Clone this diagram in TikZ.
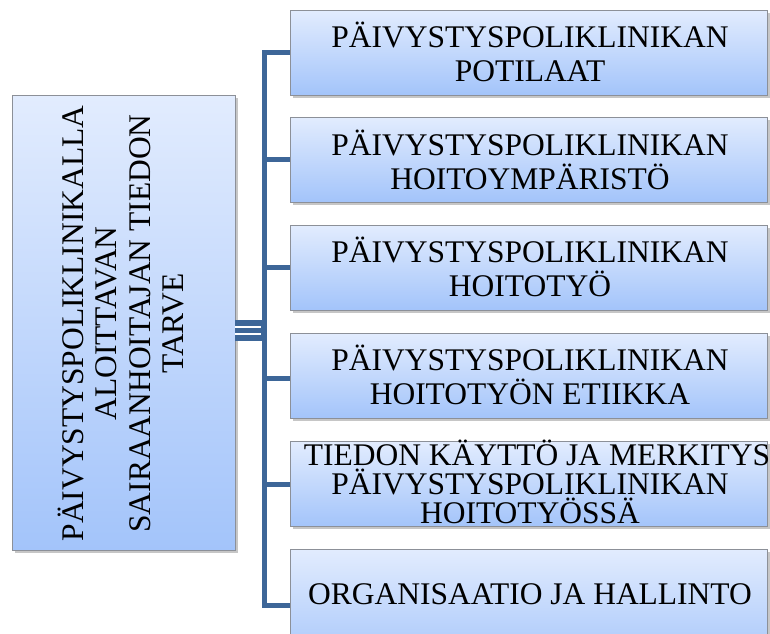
\documentclass[tikz,border=0pt]{standalone}
\usepackage{fontspec}
\setmainfont{Liberation Serif}
\usetikzlibrary{shadows}
\definecolor{busblue}{RGB}{61,102,152}
\definecolor{boxtop}{RGB}{226,236,254}
\definecolor{boxbot}{RGB}{163,196,250}
\definecolor{boxline}{RGB}{140,144,152}
\tikzset{
  boxbase/.style={draw=boxline, line width=0.9pt, top color=boxtop, bottom color=boxbot,
    drop shadow={opacity=0.45, shadow xshift=2.5pt, shadow yshift=-2.5pt}, inner sep=0pt},
  rbox/.style={boxbase, minimum width=477pt, minimum height=85pt},
  lbox/.style={boxbase, minimum width=223pt, minimum height=455pt},
  txt/.style={align=center, text=black, font=\fontsize{31.5}{33.5}\selectfont, inner sep=0pt},
  bus/.style={draw=busblue, line width=5pt, line join=miter},
  trunk/.style={draw=busblue, line width=21pt},
  gap/.style={draw=white, line width=1.1pt}
}
\begin{document}
\begin{tikzpicture}[x=1pt,y=-1pt]
\useasboundingbox (0,0) rectangle (770,633);
% boxes
\node[lbox] (lbox) at (123.5,322.5) {};
\node[rbox] (b1) at (528.5,52.5) {};
\node[rbox] (b2) at (528.5,159.5) {};
\node[rbox] (b3) at (528.5,267.5) {};
\node[rbox] (b4) at (528.5,376) {};
\node[rbox] (b5) at (528.5,484) {};
\node[rbox, minimum height=120pt] (b6) at (528.5,609) {};
% connectors
\coordinate (j1) at (264,52.5);
\coordinate (j2) at (264,159.5);
\coordinate (j3) at (264,267.5);
\coordinate (j4) at (264,378);
\coordinate (j5) at (264,484);
\coordinate (j6) at (264,605);
\coordinate (m) at (267,330);
\draw[bus] (b1.west) -- (j1) -- (j6) -- (b6.west |- j6);
\draw[bus] (j2) -- (b2.west);
\draw[bus] (j3) -- (b3.west);
\draw[bus] (j4) -- (b4.west |- j4);
\draw[bus] (j5) -- (b5.west);
\draw[trunk] (lbox.east |- m) -- (m);
\draw[gap] (lbox.east |- 0,327) -- (261,327);
\draw[gap] (lbox.east |- 0,334) -- (261,334);
% texts
\node[txt, rotate=90] (lt) at (121,323.5) {PÄIVYSTYSPOLIKLINIKALLA\\ALOITTAVAN\\SAIRAANHOITAJAN TIEDON\\TARVE};
\node[txt] (t1) at (530,52) {PÄIVYSTYSPOLIKLINIKAN\\POTILAAT};
\node[txt] (t2) at (530,160) {PÄIVYSTYSPOLIKLINIKAN\\HOITOYMPÄRISTÖ};
\node[txt] (t3) at (530,267) {PÄIVYSTYSPOLIKLINIKAN\\HOITOTYÖ};
\node[txt] (t4) at (530,375) {PÄIVYSTYSPOLIKLINIKAN\\HOITOTYÖN ETIIKKA};
\node[txt, font=\fontsize{31.5}{29}\selectfont] (t5) at (530,482) {\hspace*{14pt}TIEDON KÄYTTÖ JA MERKITYS\\PÄIVYSTYSPOLIKLINIKAN\\HOITOTYÖSSÄ};
\node[txt] (t6) at (530,594) {ORGANISAATIO JA HALLINTO};
\end{tikzpicture}
\end{document}
